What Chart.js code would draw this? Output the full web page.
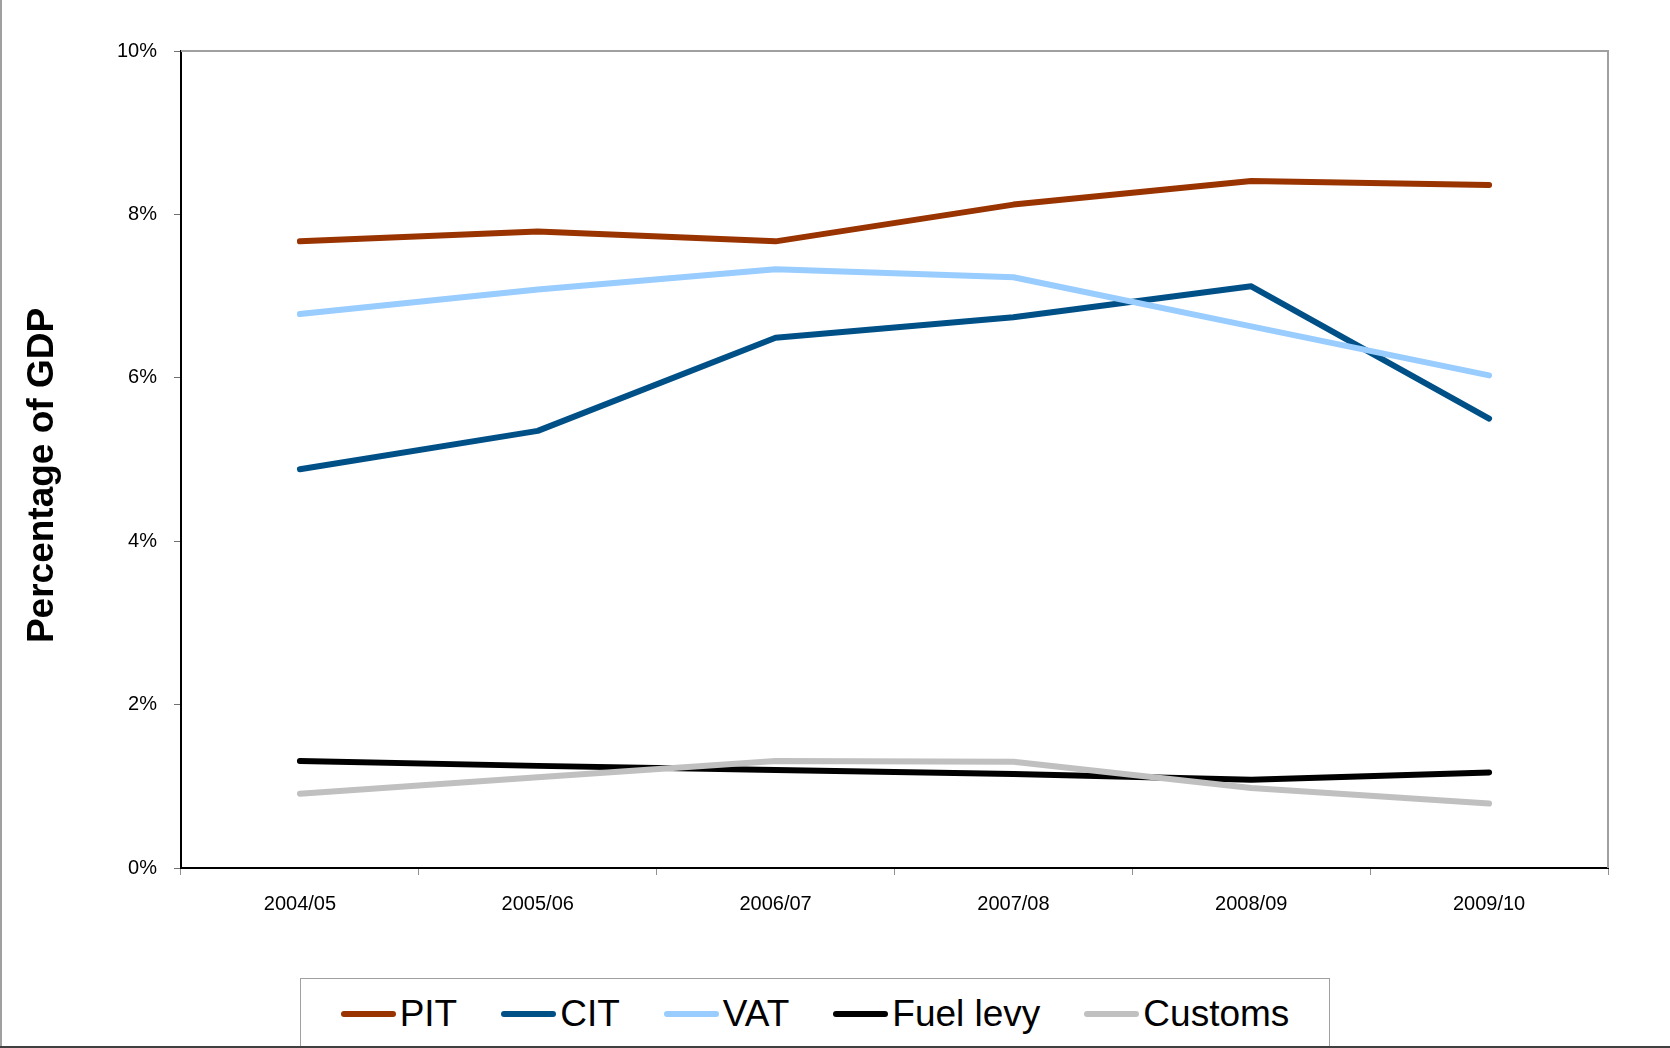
<!DOCTYPE html>
<html lang="en">
  <head>
    <meta charset="utf-8">
    <title>Percentage of GDP</title>
    <script src="https://cdn.jsdelivr.net/npm/chart.js"></script>
    <style>
      body { margin: 0; background: #fff; }
      #wrap { position: relative; width: 1670px; height: 1048px; overflow: hidden; }
      #edgeLeft { position: absolute; left: 0; top: 0; width: 2px; height: 1048px; background: #a0a0a0; }
      #edgeBottom { position: absolute; left: 0; top: 1046px; width: 1670px; height: 2px; background: #404040; }
      #legend {
        position: absolute; left: 300px; top: 978px; width: 1028px; height: 90px;
        border: 1px solid #a0a0a0; background: #fff;
        font-family: "Liberation Sans", Arial, sans-serif; font-size: 37px; color: #000;
      }
      #legend .items { height: 70px; display: flex; align-items: center; justify-content: center; gap: 44px; }
      #legend .item { display: flex; align-items: center; }
      #legend .swatch { width: 55px; height: 6px; border-radius: 3px; margin-right: 4px; }
    </style>
  </head>
  <body>
    <div id="wrap">
      <canvas id="myChart" width="1670" height="1048"></canvas>
      <div id="legend"><div class="items"></div></div>
      <div id="edgeLeft"></div>
      <div id="edgeBottom"></div>
    </div>

  <script>
    // values, % of GDP
    var years = ["2004/05", "2005/06", "2006/07", "2007/08", "2008/09", "2009/10"];
    var pit = [7.67, 7.79, 7.67, 8.12, 8.41, 8.36];
    var cit = [4.88, 5.35, 6.49, 6.74, 7.12, 5.50];
    var vat = [6.78, 7.08, 7.33, 7.23, 6.63, 6.03];
    var fuelLevy = [1.31, 1.25, 1.20, 1.15, 1.08, 1.17];
    var customs = [0.91, 1.11, 1.31, 1.30, 0.98, 0.79];
    var yTitle = 'Percentage of GDP';

    Chart.defaults.font.family = '"Liberation Sans", Arial, sans-serif';
    Chart.defaults.color = '#000';

    function line(label, data, color, order) {
        return {
            label: label,
            data: data,
            borderColor: color,
            backgroundColor: color,
            borderWidth: 6,
            borderCapStyle: 'round',
            borderJoinStyle: 'round',
            pointRadius: 0,
            pointHoverRadius: 0,
            tension: 0,
            fill: false,
            order: order
        };
    }

    // grey frame on top and right of the plot area, plus the y title
    const frame = {
        id: 'frame',
        beforeDatasetsDraw(chart) {
            const a = chart.chartArea, c = chart.ctx;
            c.save();
            c.strokeStyle = '#a0a0a0';
            c.lineWidth = 2;
            c.beginPath();
            c.moveTo(a.left, a.top);
            c.lineTo(a.right, a.top);
            c.lineTo(a.right, a.bottom);
            c.stroke();
            c.restore();
        },
        afterDraw(chart) {
            const a = chart.chartArea, c = chart.ctx;
            c.save();
            c.translate(43, (a.top + a.bottom) / 2 + 16);
            c.rotate(-Math.PI / 2);
            c.font = 'bold 37px "Liberation Sans", Arial, sans-serif';
            c.fillStyle = '#000';
            c.textAlign = 'center';
            c.textBaseline = 'middle';
            c.fillText(yTitle, 0, 0);
            c.restore();
        }
    };

    const ctx = document.getElementById('myChart').getContext('2d');
    const myChart = new Chart(ctx, {
        type: 'line',
        data: {
            labels: years,
            datasets: [
                line("PIT", pit, '#993300', 4),
                line("CIT", cit, '#005088', 3),
                line("VAT", vat, '#99ccff', 2),
                line("Fuel levy", fuelLevy, '#000000', 1),
                line("Customs", customs, '#c0c0c0', 0)
            ]
        },
        options: {
            responsive: false,
            animation: false,
            layout: { padding: { left: 0, top: 51, right: 62, bottom: 0 } },
            plugins: {
                legend: { display: false },
                tooltip: { enabled: false }
            },
            scales: {
                x: {
                    offset: true,
                    grid: { offset: true, drawOnChartArea: false, drawTicks: true, tickLength: 7, color: '#909090' },
                    border: { color: '#000', width: 2 },
                    ticks: { font: { size: 20 }, padding: 17, maxRotation: 0 },
                    afterFit(scale) { scale.height = 180; }
                },
                y: {
                    min: 0,
                    max: 10,
                    grid: { drawOnChartArea: false, tickLength: 7, color: '#707070' },
                    border: { color: '#000', width: 2 },
                    ticks: { stepSize: 2, font: { size: 20 }, padding: 17, callback: v => v + '%' },
                    afterFit(scale) { scale.width = 181; }
                }
            }
        },
        plugins: [frame]
    });

    // legend built from the chart's datasets
    const box = document.querySelector('#legend .items');
    myChart.data.datasets.forEach(ds => {
        const item = document.createElement('div');
        item.className = 'item';
        const sw = document.createElement('span');
        sw.className = 'swatch';
        sw.style.background = ds.borderColor;
        const tx = document.createElement('span');
        tx.textContent = ds.label;
        item.appendChild(sw);
        item.appendChild(tx);
        box.appendChild(item);
    });
  </script>
  </body>
</html>
